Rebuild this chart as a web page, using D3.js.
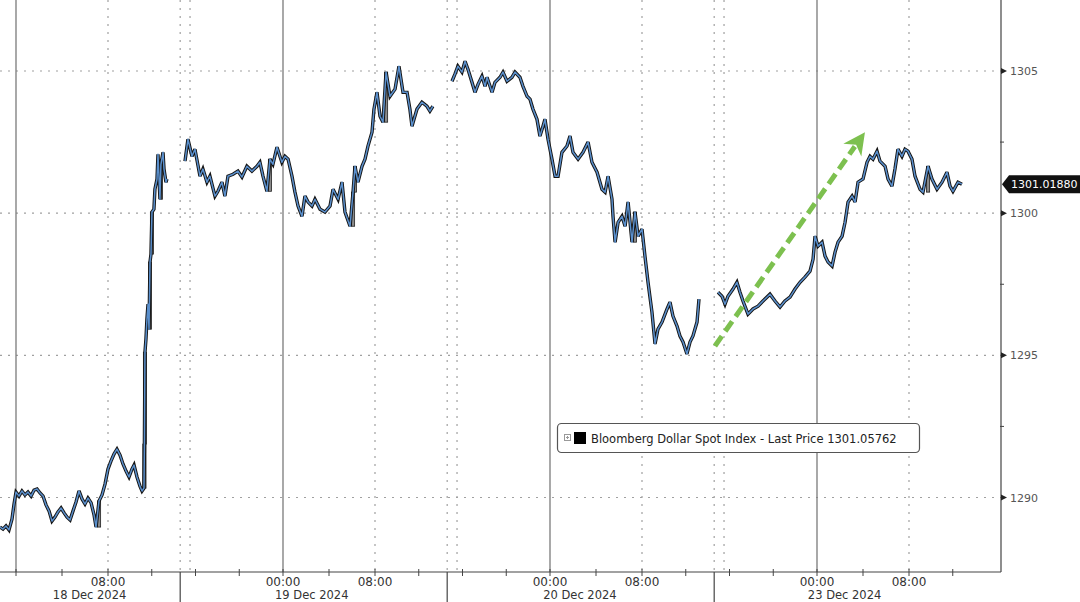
<!DOCTYPE html>
<html><head><meta charset="utf-8">
<script src="https://cdn.jsdelivr.net/npm/d3@7/dist/d3.min.js"></script>
<style>
html,body{margin:0;padding:0;background:#fff;overflow:hidden;}
svg{display:block;font-family:"DejaVu Sans",sans-serif;}
</style></head><body>
<svg id="chart" width="1080" height="602"></svg>
<script>
// ---------- DATA (time = hours from 18 Dec 2024 00:00 on the chart's trading-time axis) ----------
const session18 = [
[-1.39,1288.96],[-1.13,1288.89],[-0.87,1289.00],[-0.61,1288.86],[-0.35,1289.24],[-0.17,1289.77],[0,1290.19],[0.26,1290.05],
[0.52,1290.23],[0.78,1290.09],[1.04,1290.19],[1.31,1290.05],[1.57,1290.26],[1.83,1290.30],[2.09,1290.16],[2.35,1290.05],
[2.61,1289.74],[2.87,1289.53],[3.13,1289.17],[3.39,1289.31],[3.65,1289.49],[3.92,1289.63],[4.18,1289.46],[4.44,1289.31],
[4.70,1289.21],[4.96,1289.53],[5.22,1289.84],[5.48,1290.23],[5.74,1289.95],[6.00,1289.77],[6.26,1289.98],[6.53,1289.81],
[6.79,1289.38],[6.96,1288.96],[7.22,1289.88],[7.48,1290.09],[7.74,1290.47],[8.00,1291.00],[8.27,1291.28],[8.55,1291.53],
[8.82,1291.70],[9.10,1291.49],[9.37,1291.18],[9.65,1290.93],[9.92,1290.72],[10.19,1291.00],[10.38,1291.14],[10.65,1290.72],
[10.92,1290.40],[11.11,1290.23],[11.29,1290.33],[11.33,1291.88],[11.38,1295.11],[11.47,1295.57],[11.56,1296.27],[11.66,1296.80],[11.75,1295.92],
[11.84,1298.28],[11.93,1298.56],[12.02,1300.04],[12.20,1300.14],[12.29,1300.84],[12.48,1301.20],[12.57,1302.07],[12.75,1300.49],
[12.84,1301.72],[13.03,1302.14],[13.12,1301.55],[13.30,1301.09],[13.39,1301.20]
];
const session19 = [
[15.04,1301.83],[15.31,1302.60],[15.68,1302.00],[15.95,1302.25],[16.41,1301.30],[16.68,1301.55],[17.05,1301.09],[17.32,1301.30],
[17.78,1300.60],[18.05,1300.77],[18.42,1301.09],[18.69,1300.60],[18.97,1301.30],[19.43,1301.37],[19.88,1301.48],[20.25,1301.27],
[20.70,1301.65],[21.16,1301.48],[21.62,1301.65],[21.89,1301.79],[22.17,1301.30],[22.53,1300.77],[22.81,1301.90],[23.08,1301.72],
[23.45,1302.32],[23.90,1301.79],[24.17,1302.00],[24.44,1301.90],[24.78,1301.30],[25.04,1300.74],[25.31,1300.25],[25.65,1299.89],
[25.91,1300.60],[26.18,1300.39],[26.52,1300.25],[26.78,1300.49],[27.22,1300.14],[27.65,1300.04],[28.09,1300.25],[28.35,1300.84],
[28.79,1300.49],[29.13,1301.09],[29.39,1300.04],[29.83,1299.54],[30.09,1300.74],[30.26,1301.65],[30.52,1301.09],[30.87,1301.65],
[31.13,1301.90],[31.39,1302.36],[31.74,1302.85],[31.91,1303.66],[32.18,1304.25],[32.46,1303.41],[32.73,1303.20],[33.01,1304.96],
[33.37,1304.11],[33.83,1304.36],[34.19,1305.17],[34.56,1304.25],[34.93,1304.25],[35.19,1303.66],[35.38,1303.06],[35.84,1303.66],
[36.29,1303.90],[36.75,1303.76],[37.02,1303.59],[37.29,1303.76]
];
const session20 = [
[39.04,1304.64],[39.31,1304.89],[39.58,1305.17],[39.95,1304.96],[40.23,1305.34],[40.50,1305.06],[40.87,1304.60],[41.14,1304.25],
[41.42,1304.53],[41.78,1304.82],[42.06,1304.46],[42.24,1304.78],[42.70,1304.25],[42.97,1304.60],[43.43,1304.78],[43.70,1304.96],
[44.07,1304.64],[44.52,1304.78],[44.80,1304.96],[45.25,1304.78],[45.53,1304.46],[45.90,1304.11],[46.17,1304.01],[46.44,1303.66],
[46.81,1303.30],[47.08,1302.71],[47.36,1303.06],[47.54,1303.30],[47.82,1302.60],[48.17,1301.90],[48.44,1301.30],[48.70,1301.30],
[49.04,1302.14],[49.48,1302.36],[49.74,1302.71],[50.00,1302.14],[50.44,1301.90],[50.87,1302.14],[51.31,1302.50],[51.65,1301.79],
[52.09,1301.44],[52.52,1300.84],[52.79,1300.74],[53.05,1301.30],[53.39,1300.49],[53.48,1299.89],[53.66,1298.98],[53.92,1299.68],
[54.26,1299.89],[54.53,1299.54],[54.79,1300.39],[55.13,1298.98],[55.39,1300.04],[55.66,1299.19],[56.00,1299.44],[56.27,1298.49],
[56.55,1297.57],[56.91,1296.52],[57.19,1295.40],[57.46,1295.92],[57.83,1296.17],[58.29,1296.63],[58.56,1296.87],[58.83,1296.38],
[59.20,1296.03],[59.47,1295.68],[59.75,1295.47],[60.11,1295.05],[60.39,1295.47],[60.66,1295.68],[61.03,1296.17],[61.21,1296.98]
];
const session23 = [
[62.95,1297.22],[63.31,1297.08],[63.59,1296.80],[63.86,1297.08],[64.32,1297.33],[64.68,1297.57],[64.96,1297.22],[65.23,1296.91],
[65.69,1296.45],[66.15,1296.63],[66.61,1296.73],[67.06,1296.91],[67.70,1297.15],[68.16,1296.91],[68.62,1296.70],[69.07,1296.91],
[69.53,1297.05],[69.99,1297.33],[70.45,1297.57],[70.90,1297.75],[71.36,1297.96],[71.64,1298.38],[71.82,1299.19],[72.09,1298.84],
[72.44,1298.98],[72.70,1298.49],[72.96,1298.28],[73.31,1298.14],[73.57,1298.63],[73.83,1298.98],[74.18,1299.19],[74.44,1299.68],
[74.70,1300.39],[75.05,1300.60],[75.31,1300.39],[75.57,1301.09],[76.00,1301.20],[76.35,1301.79],[76.61,1302.00],[76.87,1301.90],
[77.22,1302.18],[77.48,1301.83],[77.92,1301.65],[78.18,1301.20],[78.52,1300.95],[78.78,1301.55],[79.04,1302.25],[79.39,1302.00],
[79.65,1302.25],[79.91,1302.18],[80.27,1301.90],[80.55,1301.30],[81.01,1300.84],[81.28,1300.74],[81.74,1301.65],[82.10,1301.20],
[82.56,1300.84],[83.02,1301.09],[83.47,1301.44],[83.75,1300.95],[84.02,1300.77],[84.48,1301.09],[84.84,1301.02]
];

const priceTicks = [1290, 1295, 1300, 1305];
const priceMinorTicks = [1292.5, 1297.5, 1302.5];
const dayStartHours = [0, 24, 48, 72];
const gridHours = [8, 32, 56, 80];
const timeTickHours = [8, 24, 32, 48, 56, 72, 80];
const timeTickLabels = ["08:00", "00:00", "08:00", "00:00", "08:00", "00:00", "08:00"];
const minorTickHours = d3.range(0, 88, 4);
const sessionBreakHours = [[14.6, 15.5], [38.6, 39.5], [62.6, 63.5]];
const dateLabels = ["18 Dec 2024", "19 Dec 2024", "20 Dec 2024", "23 Dec 2024"];
const dateLabelHours = [6.4, 26.5, 50.6, 74.4];
const lastPrice = 1301.01880;
const lastPriceLabel = "1301.01880";
const legendText = "Bloomberg Dollar Spot Index - Last Price 1301.05762";
const arrowFrom = [62.67, 1295.33];
const arrowTo = [76.17, 1302.85];

// ---------- LAYOUT ----------
const svg = d3.select("#chart");
const axisX = 1001, axisY = 572;
const originX = 16, dayW = 267, morningW = 92;
const xDom = [], xRng = [];
for (let k = 0; k <= 4; k++) { xDom.push(24*k, 24*k+8); xRng.push(originX + dayW*k, originX + dayW*k + morningW); }
const x = d3.scaleLinear().domain(xDom).range(xRng);
const y = d3.scaleLinear().domain([1290, 1305]).range([497.5, 71]);

// ---------- GRID ----------
const grid = svg.append("g");
grid.selectAll(".hg").data(priceTicks).join("line")
  .attr("x1", 0).attr("x2", axisX).attr("y1", d => y(d)).attr("y2", d => y(d))
  .attr("stroke", "#a0a0a0").attr("stroke-width", 1.2).attr("stroke-dasharray", "2,6");
grid.selectAll(".vg").data(gridHours.concat(sessionBreakHours.flat())).join("line")
  .attr("x1", d => x(d)).attr("x2", d => x(d)).attr("y1", 0).attr("y2", axisY)
  .attr("stroke", "#a0a0a0").attr("stroke-width", 1.2).attr("stroke-dasharray", "2,6");
grid.selectAll(".dl").data(dayStartHours).join("line")
  .attr("x1", d => x(d)).attr("x2", d => x(d)).attr("y1", 0).attr("y2", axisY)
  .attr("stroke", "#7a7a7a").attr("stroke-width", 1.3);

// ---------- PRICE LINE (dark edge + blue core, gray bodies on big up-moves) ----------
const line = d3.line().x(d => x(d[0])).y(d => y(d[1]));
[session18, session19, session20, session23].forEach(s => {
  const g = svg.append("g");
  const big = s.slice(1).map((d, i) => ({ t: d[0], o: s[i][1], c: d[1] })).filter(d => d.c - d.o > 0.9);
  g.selectAll("rect").data(big).join("rect")
    .attr("x", d => x(d.t) - 1.6).attr("width", 3.2)
    .attr("y", d => y(d.c)).attr("height", d => y(d.o) - y(d.c))
    .attr("fill", "#8a8a8a").attr("stroke", "#222").attr("stroke-width", 0.8);
  g.append("path").attr("d", line(s)).attr("fill", "none")
    .attr("stroke", "#151515").attr("stroke-width", 3.4).attr("stroke-linejoin", "miter").attr("stroke-miterlimit", 3);
  g.append("path").attr("d", line(s)).attr("fill", "none")
    .attr("stroke", "#5a8fcc").attr("stroke-width", 1.5).attr("stroke-linejoin", "round");
});

// ---------- GREEN ARROW ----------
(function(){
  const x0 = x(arrowFrom[0]), y0 = y(arrowFrom[1]), x1 = x(arrowTo[0]), y1 = y(arrowTo[1]);
  const len = Math.hypot(x1-x0, y1-y0), ux = (x1-x0)/len, uy = (y1-y0)/len, px = -uy, py = ux;
  const headL = 22, headW = 11;
  svg.append("line").attr("x1", x0).attr("y1", y0)
    .attr("x2", x1 - ux*headL*0.8).attr("y2", y1 - uy*headL*0.8)
    .attr("stroke", "#7dc04f").attr("stroke-width", 5).attr("stroke-dasharray", "12,6");
  const bx = x1 - ux*headL, by = y1 - uy*headL;
  svg.append("path")
    .attr("d", `M${x1},${y1}L${bx+px*headW},${by+py*headW}L${x1-ux*headL*0.7},${y1-uy*headL*0.7}L${bx-px*headW},${by-py*headW}Z`)
    .attr("fill", "#7dc04f");
})();

// ---------- AXES ----------
const ax = svg.append("g");
ax.append("line").attr("x1", axisX).attr("x2", axisX).attr("y1", 0).attr("y2", axisY).attr("stroke", "#444").attr("stroke-width", 1.2);
ax.append("line").attr("x1", 0).attr("x2", axisX).attr("y1", axisY).attr("y2", axisY).attr("stroke", "#444").attr("stroke-width", 1.2);
ax.selectAll(".tri").data(priceTicks).join("path")
  .attr("d", d => `M${axisX},${y(d)-3}L${axisX+6},${y(d)}L${axisX},${y(d)+3}Z`).attr("fill", "#222");
ax.selectAll(".mt").data(priceMinorTicks).join("line")
  .attr("x1", axisX - 1).attr("x2", axisX + 3).attr("y1", d => y(d)).attr("y2", d => y(d)).attr("stroke", "#444");
ax.selectAll(".pl").data(priceTicks).join("text")
  .attr("x", axisX + 9).attr("y", d => y(d) + 4).text(d => d)
  .attr("font-size", 11).attr("fill", "#555");
ax.selectAll(".xt").data(minorTickHours).join("line")
  .attr("x1", d => x(d)).attr("x2", d => x(d)).attr("y1", axisY - 3).attr("y2", axisY + 4).attr("stroke", "#444");
ax.selectAll(".sep").data(sessionBreakHours.map(d => d[0])).join("line")
  .attr("x1", d => x(d)).attr("x2", d => x(d)).attr("y1", axisY).attr("y2", 602).attr("stroke", "#444").attr("stroke-width", 1.2);
ax.selectAll(".tl").data(timeTickHours).join("text")
  .attr("x", d => x(d)).attr("y", 586).attr("text-anchor", "middle")
  .attr("font-size", 12).attr("fill", "#333").text((d, i) => timeTickLabels[i]);
ax.selectAll(".dlab").data(dateLabelHours).join("text")
  .attr("x", d => x(d)).attr("y", 598.5).attr("text-anchor", "middle")
  .attr("font-size", 11.5).attr("fill", "#333").text((d, i) => dateLabels[i]);

// ---------- LAST PRICE TAG ----------
(function(){
  const yc = y(lastPrice), tip = axisX + 1;
  svg.append("path")
    .attr("d", `M${tip},${yc}L${tip+7},${yc-9}L1085,${yc-9}L1085,${yc+9}L${tip+7},${yc+9}Z`)
    .attr("fill", "#111");
  svg.append("text").attr("x", tip + 9).attr("y", yc + 4).attr("font-size", 11).attr("fill", "#fff").text(lastPriceLabel);
})();

// ---------- LEGEND ----------
(function(){
  const g = svg.append("g");
  g.append("rect").attr("x", 557.5).attr("y", 423.5).attr("width", 362).attr("height", 29).attr("rx", 4)
    .attr("fill", "#fff").attr("stroke", "#555").attr("stroke-width", 1.2);
  g.append("rect").attr("x", 564.5).attr("y", 434.5).attr("width", 6).attr("height", 6).attr("fill", "none").attr("stroke", "#999");
  g.append("path").attr("d", "M566,437.5h3M567.5,436v3").attr("stroke", "#999");
  g.append("rect").attr("x", 574).attr("y", 432).attr("width", 12).attr("height", 12).attr("fill", "#000");
  g.append("text").attr("x", 591).attr("y", 443).attr("font-size", 11.5).attr("fill", "#222").text(legendText);
})();
</script>
</body></html>
